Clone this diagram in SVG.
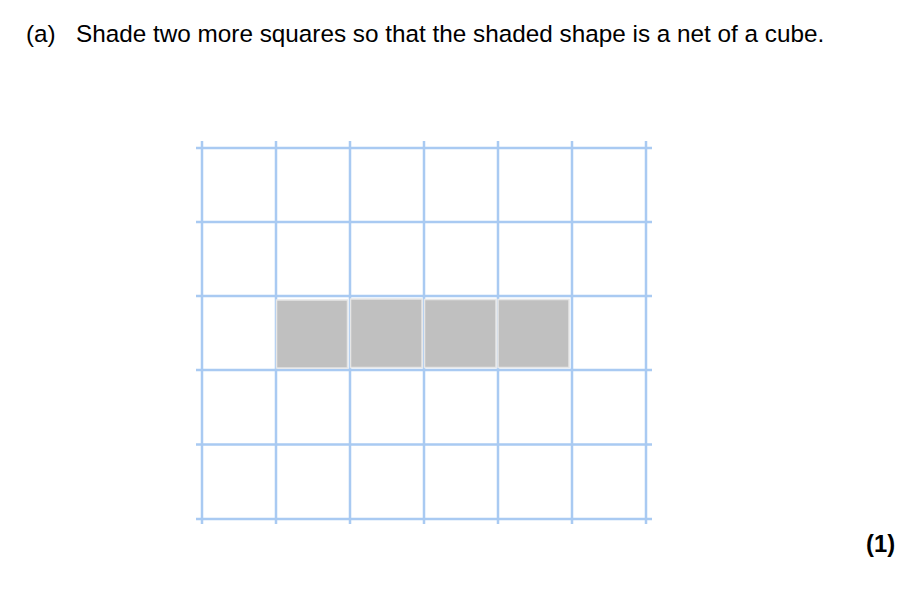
<svg xmlns="http://www.w3.org/2000/svg" width="923" height="593" viewBox="0 0 923 593">
<style>
.t{font-family:"Liberation Sans",Arial,sans-serif;font-size:24.3px;fill:#000}
.b{font-weight:bold;font-size:23.8px}
.g line{stroke:#a9caf2;stroke-width:2.5}
.s{fill:#c0c0c0;stroke:#e6e6e6;stroke-width:1.5}
</style>
<rect width="923" height="593" fill="#fff"/>
<text class="t" x="26" y="42">(a)</text>
<text class="t" x="76" y="42">Shade two more squares so that the shaded shape is a net of a cube.</text>
<g id="grid" class="g">
<line x1="196" y1="148" x2="652" y2="148"/>
<line x1="196" y1="222" x2="652" y2="222"/>
<line x1="196" y1="296" x2="652" y2="296"/>
<line x1="196" y1="370" x2="652" y2="370"/>
<line x1="196" y1="444.5" x2="652" y2="444.5"/>
<line x1="196" y1="519" x2="652" y2="519"/>
<line x1="202" y1="141" x2="202" y2="524"/>
<line x1="276" y1="141" x2="276" y2="524"/>
<line x1="350" y1="141" x2="350" y2="524"/>
<line x1="424" y1="141" x2="424" y2="524"/>
<line x1="498" y1="141" x2="498" y2="524"/>
<line x1="572" y1="141" x2="572" y2="524"/>
<line x1="646" y1="141" x2="646" y2="524"/>
</g>
<g id="shaded">
<rect class="s" x="276.5" y="300" width="71" height="68"/>
<rect class="s" x="350.5" y="299" width="71.5" height="68.5"/>
<rect class="s" x="424.5" y="299.5" width="71.5" height="68"/>
<rect class="s" x="498" y="299.5" width="71" height="68"/>
</g>
<text class="t b" x="866" y="552">(1)</text>
</svg>
